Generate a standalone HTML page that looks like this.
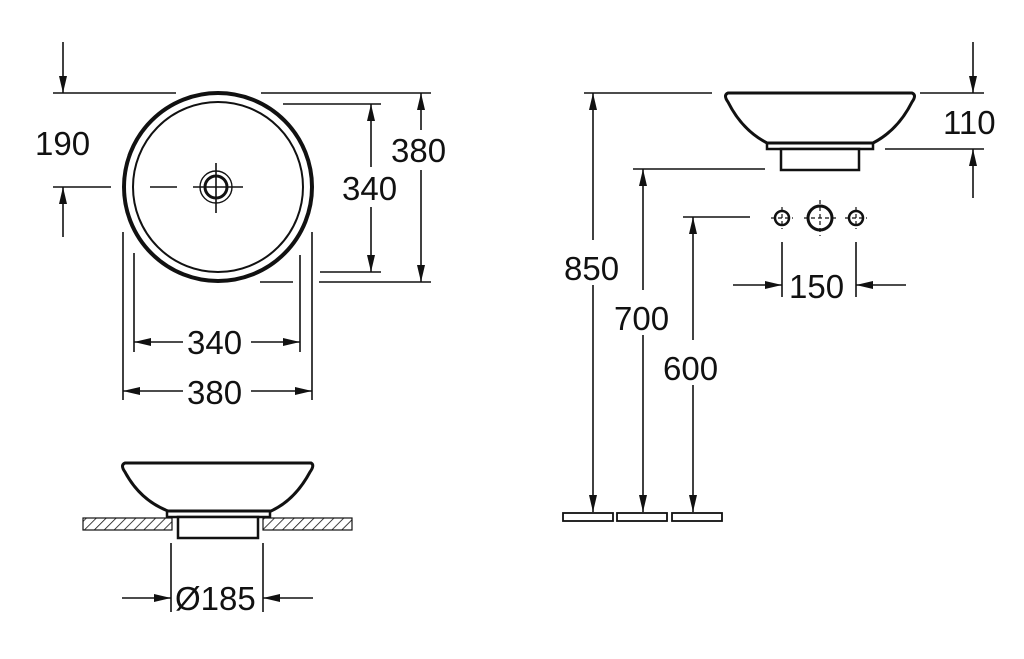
<!DOCTYPE html>
<html><head><meta charset="utf-8"><style>
html,body{margin:0;padding:0;background:#fff;}
svg{display:block;}
text{font-family:"Liberation Sans",sans-serif;font-size:33px;fill:#111;}
</style></head><body>
<svg width="1024" height="659" viewBox="0 0 1024 659" xmlns="http://www.w3.org/2000/svg">
<defs>
<marker id="a" viewBox="0 0 10 10" refX="10" refY="5" markerWidth="17" markerHeight="8" markerUnits="userSpaceOnUse" orient="auto-start-reverse" preserveAspectRatio="none"><path d="M0,0 L10,5 L0,10 z" fill="#111"/></marker>
<pattern id="h" width="7" height="7" patternUnits="userSpaceOnUse" patternTransform="rotate(45)"><line x1="0" y1="0" x2="0" y2="7" stroke="#111" stroke-width="1.6"/></pattern>
</defs>
<g stroke="#111" stroke-width="1.6" fill="none">
<circle cx="218" cy="187" r="94" stroke-width="4"/>
<circle cx="218" cy="187" r="85" stroke-width="2"/>
<circle cx="216" cy="187" r="16" stroke-width="1.4"/>
<circle cx="216" cy="187" r="11" stroke-width="3"/>
<line x1="193" y1="187" x2="243" y2="187"/>
<line x1="216" y1="163" x2="216" y2="213"/>
<line x1="150" y1="187" x2="177" y2="187"/>
<line x1="53" y1="187" x2="111" y2="187"/>
<line x1="53" y1="93" x2="176" y2="93"/>
<line x1="261" y1="93" x2="431" y2="93"/>
<line x1="283" y1="104" x2="381" y2="104"/>
<line x1="320" y1="272" x2="381" y2="272"/>
<line x1="260" y1="282" x2="293" y2="282"/>
<line x1="319" y1="282" x2="431" y2="282"/>
<line x1="63" y1="42" x2="63" y2="93" marker-end="url(#a)"/>
<line x1="63" y1="237" x2="63" y2="187" marker-end="url(#a)"/>
<line x1="371" y1="167" x2="371" y2="104" marker-end="url(#a)"/>
<line x1="371" y1="207" x2="371" y2="272" marker-end="url(#a)"/>
<line x1="421" y1="130" x2="421" y2="93" marker-end="url(#a)"/>
<line x1="421" y1="170" x2="421" y2="282" marker-end="url(#a)"/>
<line x1="134" y1="253" x2="134" y2="352"/>
<line x1="300" y1="255" x2="300" y2="352"/>
<line x1="123" y1="232" x2="123" y2="400"/>
<line x1="312" y1="232" x2="312" y2="400"/>
<line x1="183" y1="342" x2="134" y2="342" marker-end="url(#a)"/>
<line x1="251" y1="342" x2="300" y2="342" marker-end="url(#a)"/>
<line x1="183" y1="391" x2="123" y2="391" marker-end="url(#a)"/>
<line x1="251" y1="391" x2="312" y2="391" marker-end="url(#a)"/>
<path d="M125,463 L311,463 Q315,465 310,472 Q295,500 271,511 L168,511 Q140,500 125,472 Q120,465 125,463 Z" stroke-width="3"/>
<rect x="167" y="511" width="103" height="6" stroke-width="2.5"/>
<rect x="178" y="517" width="80" height="21" stroke-width="2.5" fill="#fff"/>
<rect x="83" y="518" width="89" height="12" fill="url(#h)" stroke-width="1.2"/>
<rect x="263" y="518" width="89" height="12" fill="url(#h)" stroke-width="1.2"/>
<line x1="171" y1="543" x2="171" y2="612"/>
<line x1="263" y1="543" x2="263" y2="612"/>
<line x1="122" y1="598" x2="171" y2="598" marker-end="url(#a)"/>
<line x1="313" y1="598" x2="263" y2="598" marker-end="url(#a)"/>
<path d="M728,93 L912,93 Q917,95 912,102 Q898,130 873,143 L767,143 Q742,130 728,102 Q723,95 728,93 Z" stroke-width="3"/>
<rect x="767" y="143" width="106" height="6" stroke-width="2.5"/>
<rect x="781" y="149" width="78" height="21" stroke-width="2.5" fill="#fff"/>
<line x1="920" y1="93" x2="984" y2="93"/>
<line x1="885" y1="149" x2="984" y2="149"/>
<line x1="973" y1="42" x2="973" y2="93" marker-end="url(#a)"/>
<line x1="973" y1="198" x2="973" y2="149" marker-end="url(#a)"/>
<line x1="584" y1="93" x2="712" y2="93"/>
<line x1="633" y1="169" x2="765" y2="169"/>
<line x1="683" y1="217" x2="750" y2="217"/>
<line x1="593" y1="240" x2="593" y2="93" marker-end="url(#a)"/>
<line x1="593" y1="285" x2="593" y2="512" marker-end="url(#a)"/>
<line x1="643" y1="290" x2="643" y2="169" marker-end="url(#a)"/>
<line x1="643" y1="335" x2="643" y2="512" marker-end="url(#a)"/>
<line x1="693" y1="340" x2="693" y2="217" marker-end="url(#a)"/>
<line x1="693" y1="385" x2="693" y2="512" marker-end="url(#a)"/>
<rect x="563" y="513" width="50" height="8" stroke-width="1.8"/>
<rect x="617" y="513" width="50" height="8" stroke-width="1.8"/>
<rect x="672" y="513" width="50" height="8" stroke-width="1.8"/>
<circle cx="782" cy="218" r="7" stroke-width="2.5"/>
<circle cx="820" cy="218" r="12" stroke-width="3"/>
<circle cx="856" cy="218" r="7" stroke-width="2.5"/>
<g stroke-width="1.2" stroke-dasharray="4,3">
<line x1="771" y1="218" x2="793" y2="218"/><line x1="782" y1="207" x2="782" y2="229"/>
<line x1="804" y1="218" x2="836" y2="218"/><line x1="820" y1="200" x2="820" y2="236"/>
<line x1="845" y1="218" x2="867" y2="218"/><line x1="856" y1="207" x2="856" y2="229"/>
</g>
<line x1="782" y1="242" x2="782" y2="297"/>
<line x1="856" y1="242" x2="856" y2="297"/>
<line x1="733" y1="285" x2="782" y2="285" marker-end="url(#a)"/>
<line x1="906" y1="285" x2="856" y2="285" marker-end="url(#a)"/>
</g>
<text x="35" y="155">190</text>
<text x="391" y="162">380</text>
<text x="342" y="200">340</text>
<text x="187" y="354">340</text>
<text x="187" y="404">380</text>
<text x="175" y="610">Ø185</text>
<text x="943" y="134">110</text>
<text x="564" y="280">850</text>
<text x="614" y="330">700</text>
<text x="663" y="380">600</text>
<text x="789" y="298">150</text>
</svg>
</body></html>
